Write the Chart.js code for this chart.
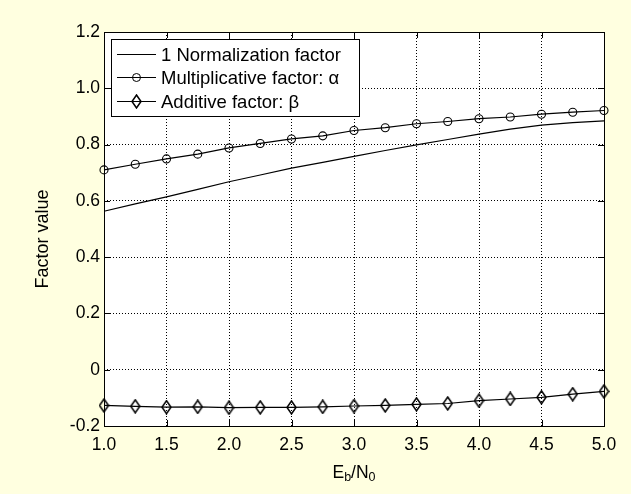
<!DOCTYPE html>
<html><head><meta charset="utf-8">
<script src="https://cdn.jsdelivr.net/npm/chart.js@4.4.1/dist/chart.umd.min.js"></script>
<style>html,body{margin:0;padding:0;background:#FFFFE0;}canvas{display:block}</style>
</head><body>
<canvas id="c" width="631" height="494"></canvas>
<script>
// ---- data ----
const ebn0 = [1.0,1.25,1.5,1.75,2.0,2.25,2.5,2.75,3.0,3.25,3.5,3.75,4.0,4.25,4.5,4.75,5.0];
const normalization = [0.563,0.589,0.614,0.641,0.668,0.692,0.716,0.737,0.758,0.779,0.799,0.818,0.837,0.855,0.869,0.878,0.884];
const alpha = [0.710,0.730,0.749,0.766,0.788,0.804,0.820,0.831,0.850,0.860,0.874,0.882,0.892,0.898,0.908,0.915,0.921];
const beta = [-0.127,-0.130,-0.133,-0.132,-0.135,-0.134,-0.134,-0.132,-0.129,-0.127,-0.123,-0.120,-0.110,-0.104,-0.098,-0.087,-0.077];
const seriesLabels = ['1 Normalization factor','Multiplicative factor: \u03b1','Additive factor: \u03b2'];
const xTickLabels = ['1.0','1.5','2.0','2.5','3.0','3.5','4.0','4.5','5.0'];
const yTickLabels = ['-0.2','0','0.2','0.4','0.6','0.8','1.0','1.2'];
const yTitle = 'Factor value';

const FONT = 'Liberation Sans, Arial, sans-serif';
const FS = 17.5;
const LFS = 18.5;

// tall open diamond marker
const diamond = document.createElement('canvas');
diamond.width = 11; diamond.height = 15;
(function(){
  const g = diamond.getContext('2d');
  g.strokeStyle = '#000'; g.lineWidth = 1.5;
  g.beginPath();
  g.moveTo(5.5,1); g.lineTo(10,7.5); g.lineTo(5.5,14); g.lineTo(1,7.5); g.closePath();
  g.stroke();
})();

const pts = arr => ebn0.map((x,i)=>({x:x, y:arr[i]}));

const bgPlugin = {
  id:'bg',
  beforeDraw(chart){
    const {ctx, chartArea:a} = chart;
    ctx.save();
    ctx.fillStyle = '#FFFFE0';
    ctx.fillRect(0,0,chart.width,chart.height);
    ctx.fillStyle = '#FFFFFF';
    ctx.fillRect(a.left,a.top,a.right-a.left,a.bottom-a.top);
    ctx.restore();
  },
  beforeDatasetsDraw(chart){
    const {ctx, chartArea:a, scales} = chart;
    ctx.save();
    ctx.strokeStyle = '#000'; ctx.lineWidth = 1; ctx.setLineDash([]);
    const L = 6;
    ctx.beginPath();
    scales.x.ticks.forEach(t=>{
      const x = Math.round(scales.x.getPixelForValue(t.value))+0.5;
      ctx.moveTo(x,a.bottom); ctx.lineTo(x,a.bottom-L);
      ctx.moveTo(x,a.top); ctx.lineTo(x,a.top+L);
    });
    scales.y.ticks.forEach(t=>{
      const y = Math.round(scales.y.getPixelForValue(t.value))+0.5;
      ctx.moveTo(a.left,y); ctx.lineTo(a.left+L,y);
      ctx.moveTo(a.right,y); ctx.lineTo(a.right-L,y);
    });
    ctx.stroke();
    ctx.strokeRect(Math.round(a.left)+0.5,Math.round(a.top)+0.5,Math.round(a.right-a.left),Math.round(a.bottom-a.top));
    ctx.restore();
  },
  afterDraw(chart){
    const {ctx, chartArea:a} = chart;
    ctx.save();
    // x title: E_b/N_0
    const cx = (a.left+a.right)/2, cy = a.bottom+47;
    const big = FS+'px '+FONT, small = '12.5px '+FONT;
    const parts = [['E',big,0],['b',small,5],['/N',big,0],['0',small,5]];
    let w = 0;
    parts.forEach(p=>{ctx.font=p[1]; w+=ctx.measureText(p[0]).width;});
    let x = cx - w/2;
    ctx.fillStyle = '#000'; ctx.textBaseline = 'middle'; ctx.textAlign='left';
    parts.forEach(p=>{ctx.font=p[1]; ctx.fillText(p[0],x,cy+p[2]); x+=ctx.measureText(p[0]).width;});
    // y title
    ctx.save();
    ctx.translate(43,(a.top+a.bottom)/2+10);
    ctx.rotate(-Math.PI/2);
    ctx.font = '18px '+FONT; ctx.textAlign='center';
    ctx.fillText(yTitle,0,0);
    ctx.restore();
    // legend
    const lx = a.left+7, ly = a.top+7, lw = 248, lh = 77;
    ctx.fillStyle = '#fff';
    ctx.fillRect(lx,ly,lw,lh);
    ctx.strokeStyle = '#000'; ctx.lineWidth = 1;
    ctx.strokeRect(Math.round(lx)+0.5,Math.round(ly)+0.5,lw,lh);
    const rows = [ly+14.5, ly+38, ly+61.5];
    chart.data.datasets.forEach((ds,i)=>{
      const y = Math.round(rows[i])+0.5;
      ctx.beginPath(); ctx.moveTo(lx+6,y); ctx.lineTo(lx+45,y); ctx.stroke();
      const mx = lx+25.5;
      if (i===1){ ctx.beginPath(); ctx.arc(mx,y,4,0,Math.PI*2); ctx.stroke(); }
      if (i===2){ ctx.drawImage(diamond, Math.round(mx-5.5), Math.round(y-7.5)); }
      ctx.fillStyle='#000'; ctx.font = LFS+'px '+FONT; ctx.textAlign='left'; ctx.textBaseline='middle';
      ctx.fillText(ds.label, lx+50, y+1);
    });
    ctx.restore();
  }
};

new Chart(document.getElementById('c'), {
  type:'line',
  data:{datasets:[
    {label:seriesLabels[0], data:pts(normalization), borderColor:'#000', borderWidth:1.2, pointRadius:0, tension:0, clip:false},
    {label:seriesLabels[1], data:pts(alpha), borderColor:'#000', borderWidth:1.2, pointRadius:4, pointBorderWidth:1.1, pointBorderColor:'#000', pointBackgroundColor:'rgba(0,0,0,0)', pointStyle:'circle', tension:0, clip:false},
    {label:seriesLabels[2], data:pts(beta), borderColor:'#000', borderWidth:1.2, pointStyle:diamond, pointRadius:5, tension:0, clip:false}
  ]},
  options:{
    responsive:false, animation:false, devicePixelRatio:1,
    layout:{padding:{top:32,right:27,left:0,bottom:0}},
    plugins:{legend:{display:false}, tooltip:{enabled:false}},
    scales:{
      x:{type:'linear', min:1, max:5,
        afterBuildTicks(s){ s.ticks = xTickLabels.map(v=>({value:parseFloat(v)})); },
        ticks:{callback:(v)=>{const i=xTickLabels.map(parseFloat).indexOf(v); return i>=0?xTickLabels[i]:'';}, color:'#000', font:{family:FONT,size:FS}, padding:9, maxRotation:0, autoSkip:false},
        grid:{color:'#000', lineWidth:1, drawTicks:false},
        border:{display:false, dash:[1,2]},
        afterFit(s){ s.height = 68; }
      },
      y:{type:'linear', min:-0.2, max:1.2,
        afterBuildTicks(s){ s.ticks = yTickLabels.map(v=>({value:parseFloat(v)})); },
        ticks:{callback:(v)=>{const i=yTickLabels.map(parseFloat).findIndex(t=>Math.abs(t-v)<1e-9); return i>=0?yTickLabels[i]:'';}, color:'#000', font:{family:FONT,size:FS}, padding:4, autoSkip:false},
        grid:{color:'#000', lineWidth:1, drawTicks:false},
        border:{display:false, dash:[1,2]},
        afterFit(s){ s.width = 104; }
      }
    }
  },
  plugins:[bgPlugin]
});
</script>
</body></html>
